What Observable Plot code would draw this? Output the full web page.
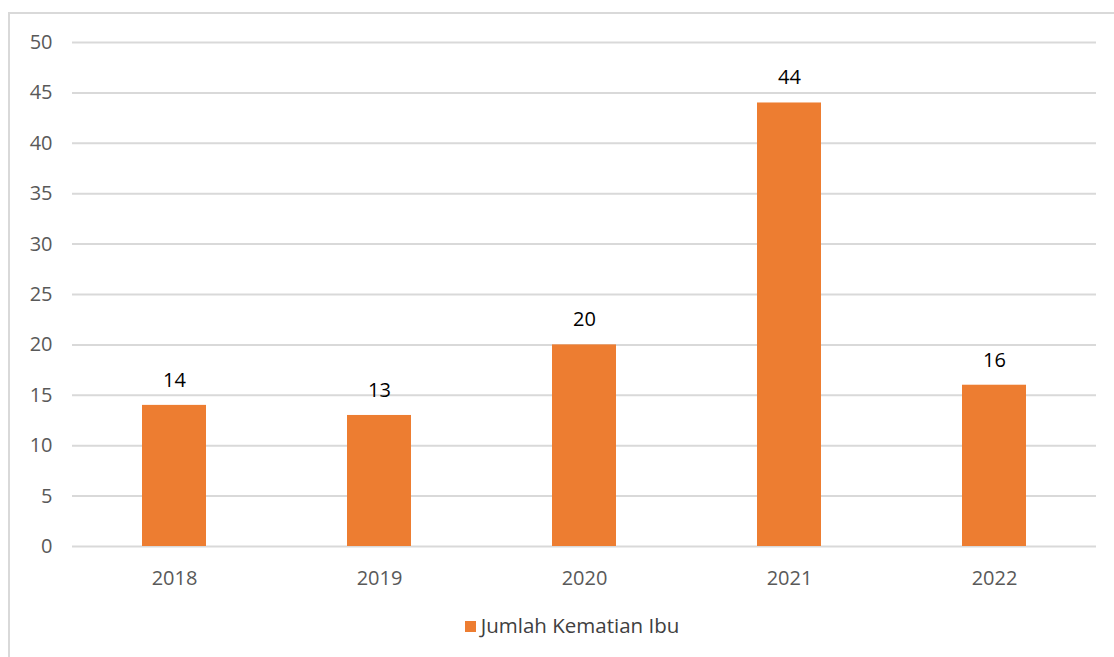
<!DOCTYPE html>
<html>
<head>
<meta charset="utf-8">
<script src="https://cdn.jsdelivr.net/npm/d3@7"></script>
<script src="https://cdn.jsdelivr.net/npm/@observablehq/plot@0.6"></script>
<style>
  html, body { margin: 0; padding: 0; background: #fff; overflow: hidden; }
  #frame { position: absolute; left: 8px; top: 12px; width: 1200px; height: 800px; border: 2px solid #d9d9d9; box-sizing: border-box; }
  #chart { position: absolute; left: 0; top: 0; }
  #legend { position: absolute; left: 15px; top: 611px; width: 1114px; text-align: center; font-family: "Open Sans", sans-serif; font-size: 20.5px; color: #404040; }
  #legend .sw { display: inline-block; width: 11px; height: 11px; background: #ED7D31; margin-right: 5px; vertical-align: 1px; }
</style>
</head>
<body>
<div id="frame"></div>
<div id="chart"></div>
<div id="legend"><span class="sw"></span>Jumlah Kematian Ibu</div>
<script>
const years = ["2018", "2019", "2020", "2021", "2022"];
const deaths = [14, 13, 20, 44, 16];
const yTicks = [0, 5, 10, 15, 20, 25, 30, 35, 40, 45, 50];
const seriesName = "Jumlah Kematian Ibu";

const data = years.map((y, i) => ({year: y, value: deaths[i]}));

const chart = Plot.plot({
  width: 1114,
  height: 600,
  marginLeft: 72,
  marginRight: 18,
  marginTop: 42,
  marginBottom: 54,
  style: {fontFamily: "'Open Sans', sans-serif", fontSize: "20px", background: "transparent", overflow: "visible"},
  x: {domain: years, paddingInner: 0.69, paddingOuter: 0.34, label: null},
  y: {domain: [0, 50], label: null},
  marks: [
    Plot.ruleY(yTicks, {stroke: "#d9d9d9", strokeWidth: 2}),
    Plot.barY(data, {x: "year", y: "value", fill: "#ED7D31"}),
    Plot.text(data, {x: "year", y: "value", text: d => String(d.value), dy: -25, fill: "#000", fontSize: 20}),
    Plot.axisY({ticks: yTicks, tickSize: 0, tickPadding: 20, color: "#595959", fontSize: 20, label: null}),
    Plot.axisX({tickSize: 0, tickPadding: 24, color: "#595959", fontSize: 20, label: null})
  ]
});
document.getElementById("chart").appendChild(chart);
</script>
</body>
</html>
